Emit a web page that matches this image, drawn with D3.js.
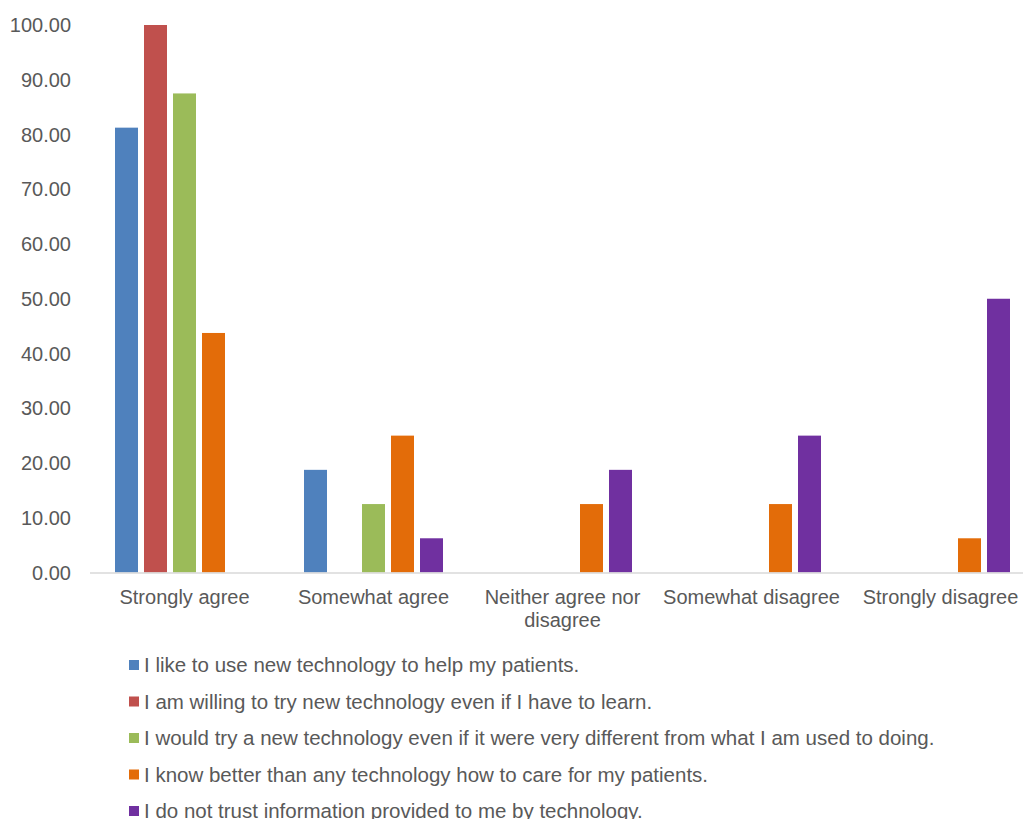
<!DOCTYPE html>
<html>
<head>
<meta charset="utf-8">
<script src="https://cdn.jsdelivr.net/npm/d3@7"></script>
<style>
  body { margin: 0; background: #fff; }
  text { font-family: "Liberation Sans", Arial, sans-serif; fill: #595959; }
</style>
</head>
<body>
<svg id="chart" width="1023" height="819"></svg>
<script>
// Data
const categories = ["Strongly agree", "Somewhat agree", "Neither agree nor disagree", "Somewhat disagree", "Strongly disagree"];
const seriesNames = [
  "I like to use new technology to help my patients.",
  "I am willing to try new technology even if I have to learn.",
  "I would try a new technology even if it were very different from what I am used to doing.",
  "I know better than any technology how to care for my patients.",
  "I do not trust information provided to me by technology."
];
const likeNewTech = [81.25, 18.75, 0, 0, 0];
const willingToTry = [100, 0, 0, 0, 0];
const tryDifferent = [87.5, 12.5, 0, 0, 0];
const knowBetter = [43.75, 25, 12.5, 12.5, 6.25];
const noTrust = [0, 6.25, 18.75, 25, 50];
const yTicks = [0, 10, 20, 30, 40, 50, 60, 70, 80, 90, 100];
const colors = ["#4F81BD", "#C0504D", "#9BBB59", "#E36C09", "#7030A0"];

const seriesValues = [likeNewTech, willingToTry, tryDifferent, knowBetter, noTrust];

const svg = d3.select("#chart");
const left = 90, catW = 189;
const x0 = d3.scaleBand()
  .domain(categories)
  .range([left, left + catW * categories.length]);

const x1 = d3.scaleBand()
  .domain(d3.range(seriesNames.length))
  .range([0, x0.bandwidth()])
  .paddingInner(6 / 29)
  .paddingOuter(50 / 58);

const y = d3.scaleLinear().domain([0, 100]).range([572.5, 25]);

// y tick labels
svg.append("g")
  .selectAll("text")
  .data(yTicks)
  .join("text")
  .attr("x", 71)
  .attr("y", d => y(d))
  .attr("dy", "0.35em")
  .attr("text-anchor", "end")
  .attr("font-size", 20)
  .text(d => d.toFixed(2));

// bars
const groups = svg.append("g")
  .selectAll("g")
  .data(seriesValues)
  .join("g")
  .attr("fill", (d, i) => colors[i]);

groups.selectAll("rect")
  .data((vals, si) => vals.map((v, ci) => ({ v, ci, si })))
  .join("rect")
  .filter(d => d.v > 0)
  .attr("x", d => x0(categories[d.ci]) + x1(d.si))
  .attr("y", d => y(d.v))
  .attr("width", x1.bandwidth())
  .attr("height", d => y(0) - y(d.v));

// x axis line
svg.append("line")
  .attr("x1", left)
  .attr("x2", left + catW * categories.length)
  .attr("y1", y(0) + 0.5)
  .attr("y2", y(0) + 0.5)
  .attr("stroke", "#d9d9d9")
  .attr("stroke-width", 1.5);

// category labels (wrapped)
const catLines = {
  "Neither agree nor disagree": ["Neither agree nor", "disagree"]
};
const catLabels = svg.append("g")
  .selectAll("text")
  .data(categories)
  .join("text")
  .attr("x", d => x0(d) + x0.bandwidth() / 2)
  .attr("y", 604)
  .attr("text-anchor", "middle")
  .attr("font-size", 20);

catLabels.each(function (d) {
  const lines = catLines[d] || [d];
  const t = d3.select(this);
  lines.forEach((l, i) => {
    t.append("tspan")
      .attr("x", x0(d) + x0.bandwidth() / 2)
      .attr("dy", i === 0 ? 0 : 23)
      .text(l);
  });
});

// legend
const legend = svg.append("g")
  .selectAll("g")
  .data(seriesNames)
  .join("g")
  .attr("transform", (d, i) => `translate(129, ${665 + i * 36.5})`);

legend.append("rect")
  .attr("x", 0)
  .attr("y", -5)
  .attr("width", 10)
  .attr("height", 10)
  .attr("fill", (d, i) => colors[i]);

legend.append("text")
  .attr("x", 15)
  .attr("y", 0)
  .attr("dy", "0.35em")
  .attr("font-size", 20.5)
  .text(d => d);
</script>
</body>
</html>
